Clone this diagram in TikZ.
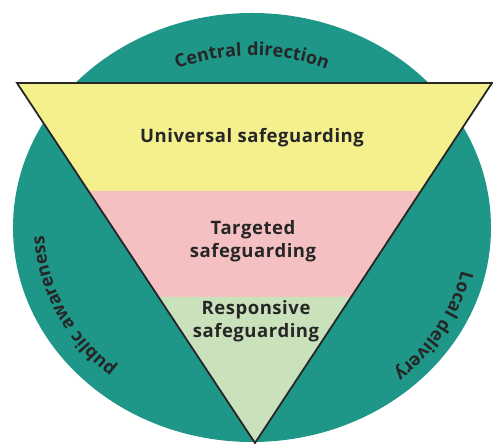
\documentclass[tikz,border=0pt]{standalone}
\usepackage{fontspec}
\setmainfont{Open Sans}
\usetikzlibrary{calc,decorations.text}

\definecolor{rimteal}{RGB}{30,150,136}
\definecolor{bandyellow}{RGB}{245,240,142}
\definecolor{bandpink}{RGB}{245,192,194}
\definecolor{bandgreen}{RGB}{202,226,188}
\definecolor{inkgray}{RGB}{38,38,38}

\newfontfamily\tierfont[LetterSpace=3]{Open Sans}
\newcommand\tiertext{\tierfont\bfseries\fontsize{18.5}{23}\selectfont}
\newcommand\rimtext{\color{inkgray}\tierfont\bfseries\fontsize{18}{18}\selectfont}

\tikzset{
  edge/.style={draw=inkgray,line width=1.8pt,line join=miter},
  tier/.style={text=inkgray,align=center,font=\tiertext},
  rim/.style={decorate,decoration={text along path,text align=center,text={|\rimtext|#1}}}
}

\begin{document}
\begin{tikzpicture}[x=1pt,y=1pt]
\useasboundingbox (0,0) rectangle (493,444);
\coordinate (c) at (252,216.5);
\fill[rimteal] (c) ellipse [x radius=239pt, y radius=214.5pt];

\coordinate (tl) at (17,361);
\coordinate (tr) at (492,361);
\coordinate (bt) at (255,1);
\coordinate (ml) at ($(tl)!0.3!(bt)$);
\coordinate (mr) at ($(tr)!0.3!(bt)$);
\coordinate (ll) at ($(tl)!0.594!(bt)$);
\coordinate (lr) at ($(tr)!0.594!(bt)$);
\fill[bandyellow] (tl) -- (tr) -- (mr) -- (ml) -- cycle;
\fill[bandpink] (ml) -- (mr) -- (lr) -- (ll) -- cycle;
\fill[bandgreen] (ll) -- (lr) -- (bt) -- cycle;
\draw[edge] (tl) -- (tr) -- (bt) -- cycle;

\node[tier] (universal) at (252,306) {Universal safeguarding};
\node[tier] (targeted) at (253,203) {Targeted\\safeguarding};
\node[tier] (responsive) at (256,123) {Responsive\\safeguarding};

\path[rim={Central direction}] (c) ++(130:192pt and 172pt) arc[start angle=130, end angle=50, x radius=192pt, y radius=172pt];
\path[rim={public awareness}] (c) ++(252:208pt and 186pt) arc[start angle=252, end angle=158, x radius=208pt, y radius=186pt];
\path[rim={Local delivery}] (c) ++(20:215pt and 193pt) arc[start angle=20, end angle=-79, x radius=215pt, y radius=193pt];
\end{tikzpicture}
\end{document}
